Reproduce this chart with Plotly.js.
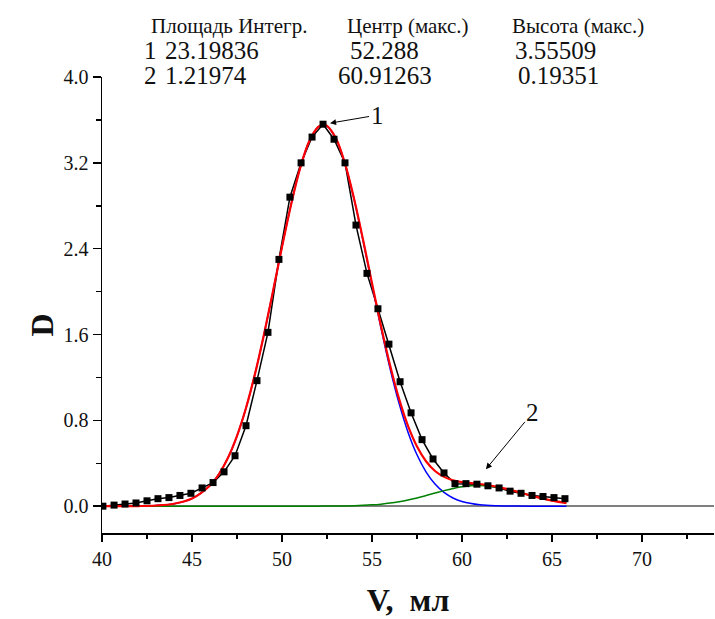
<!DOCTYPE html>
<html>
<head>
<meta charset="utf-8">
<script src="https://cdn.plot.ly/plotly-3.0.1.min.js"></script>
<style>html,body{margin:0;padding:0;background:#fff;}#chart{width:715px;height:619px;}</style>
</head>
<body>
<div id="chart"></div>
<script>
// Measured points (V, ml ; D)
const volume = [40.05, 40.67, 41.28, 41.89, 42.5, 43.11, 43.72, 44.33, 44.94, 45.56, 46.17, 46.78, 47.39, 48.0, 48.61, 49.22, 49.83, 50.44, 51.06, 51.67, 52.28, 52.89, 53.5, 54.11, 54.72, 55.33, 55.94, 56.56, 57.17, 57.78, 58.39, 59.0, 59.61, 60.22, 60.83, 61.44, 62.06, 62.67, 63.28, 63.89, 64.5, 65.11, 65.72];
const density = [0.00, 0.01, 0.02, 0.03, 0.05, 0.07, 0.08, 0.10, 0.12, 0.17, 0.22, 0.32, 0.47, 0.75, 1.17, 1.62, 2.30, 2.88, 3.20, 3.44, 3.56, 3.42, 3.20, 2.62, 2.17, 1.84, 1.51, 1.16, 0.87, 0.62, 0.44, 0.31, 0.21, 0.21, 0.205, 0.19, 0.17, 0.14, 0.12, 0.10, 0.09, 0.08, 0.07];

// Fitted curves
const fitV = [40, 41, 42, 43, 44, 45, 46, 46.5, 47, 47.5, 48, 48.5, 49, 49.5, 50, 50.5, 51, 51.5, 52, 52.3, 52.5, 53, 53.5, 54, 54.5, 55, 55.5, 56, 56.5, 57, 57.5, 58, 58.5, 59, 59.5, 60, 61, 62, 63, 64, 65, 65.8];
const peak1 = [0.0001, 0.0003, 0.0014, 0.0061, 0.0224, 0.0705, 0.192, 0.300, 0.451, 0.655, 0.915, 1.233, 1.601, 2.003, 2.416, 2.808, 3.146, 3.396, 3.533, 3.555, 3.543, 3.425, 3.190, 2.864, 2.478, 2.066, 1.660, 1.286, 0.960, 0.690, 0.479, 0.320, 0.206, 0.128, 0.0765, 0.0441, 0.0131, 0.0034, 0.0007, 0.0001, 0, 0];
const peak2 = [0, 0, 0, 0, 0, 0, 0, 0, 0, 0, 0, 0, 0, 0, 0, 0, 0.0001, 0.0002, 0.0004, 0.0005, 0.0007, 0.0014, 0.0025, 0.0044, 0.0075, 0.0122, 0.0191, 0.0287, 0.0415, 0.0577, 0.077, 0.0989, 0.122, 0.1449, 0.1653, 0.1812, 0.1934, 0.1762, 0.1371, 0.0911, 0.0517, 0.0293];
const fitSum = [0.0001, 0.0003, 0.0014, 0.0061, 0.0224, 0.0705, 0.192, 0.300, 0.451, 0.655, 0.915, 1.233, 1.601, 2.003, 2.416, 2.808, 3.146, 3.396, 3.533, 3.556, 3.544, 3.426, 3.193, 2.868, 2.486, 2.078, 1.679, 1.315, 1.002, 0.748, 0.556, 0.419, 0.328, 0.273, 0.242, 0.225, 0.207, 0.180, 0.138, 0.091, 0.052, 0.029];

// Table of fit parameters
const tableHeader = ["Площадь Интегр.", "Центр (макс.)", "Высота (макс.)"];
const peakNo = ["1", "2"];
const areas = ["23.19836", "1.21974"];
const centers = ["52.288", "60.91263"];
const heights = ["3.55509", "0.19351"];

const xTickVals = [40, 45, 50, 55, 60, 65, 70];
const yTickVals = [0.0, 0.8, 1.6, 2.4, 3.2, 4.0];

const serif = "Liberation Serif, Times New Roman, serif";

const traces = [
  {x: volume, y: density, type: "scatter", mode: "lines", line: {color: "#000", width: 1.5}},
  {x: fitV, y: peak1, type: "scatter", mode: "lines", line: {color: "#0000ff", width: 1.5, shape: "spline"}},
  {x: fitV, y: peak2, type: "scatter", mode: "lines", line: {color: "#008000", width: 1.5, shape: "spline"}},
  {x: fitV, y: fitSum, type: "scatter", mode: "lines", line: {color: "#ff0000", width: 2.2, shape: "spline"}},
  {x: volume, y: density, type: "scatter", mode: "markers", marker: {symbol: "square", size: 7, color: "#000"}}
];

// table annotations (paper coords derived from plot box)
const L = 102, T = 77, W = 612, H = 456;
function px(xp){ return (xp - L) / W; }
function py(yp){ return (T + H - yp) / H; }
const hf = {family: serif, size: 21, color: "#111"};
const tf = {family: serif, size: 25, color: "#111"};
const ann = [];
const headX = [149, 345, 510];
tableHeader.forEach((t, i) => ann.push({xref: "paper", yref: "paper", x: px(headX[i]), y: py(26), xanchor: "left", yanchor: "middle", text: t, showarrow: false, font: hf}));
const rowY = [51, 76];
const numX = [[163, 348, 513], [163, 336, 516]];
for (let r = 0; r < 2; r++) {
  ann.push({xref: "paper", yref: "paper", x: px(142), y: py(rowY[r]), xanchor: "left", yanchor: "middle", text: peakNo[r], showarrow: false, font: tf});
  [areas[r], centers[r], heights[r]].forEach((t, i) => ann.push({xref: "paper", yref: "paper", x: px(numX[r][i]), y: py(rowY[r]), xanchor: "left", yanchor: "middle", text: t, showarrow: false, font: tf}));
}
// peak labels with arrows
ann.push({x: 52.67, y: 3.57, xref: "x", yref: "y", text: "1", showarrow: true, ax: 47, ay: -8, arrowhead: 2, arrowsize: 1.2, arrowwidth: 1, arrowcolor: "#000", font: {family: serif, size: 25, color: "#111"}});
ann.push({x: 61.33, y: 0.345, xref: "x", yref: "y", text: "2", showarrow: true, ax: 47, ay: -57, arrowhead: 2, arrowsize: 1.2, arrowwidth: 1, arrowcolor: "#000", font: {family: serif, size: 25, color: "#111"}});

const layout = {
  width: 715, height: 619, autosize: false,
  margin: {l: 102, r: 1, t: 77, b: 86, pad: 0},
  paper_bgcolor: "#fff", plot_bgcolor: "#fff",
  showlegend: false,
  font: {family: serif, size: 20, color: "#111"},
  xaxis: {
    range: [40, 74], tickvals: xTickVals, ticktext: xTickVals.map(String),
    showgrid: false, zeroline: false, showline: true, linecolor: "#000", linewidth: 1.5,
    ticks: "outside", ticklen: 7, tickwidth: 1.5, tickcolor: "#000",
    minor: {dtick: 2.5, tick0: 40, ticks: "outside", ticklen: 4, tickwidth: 1.5, tickcolor: "#000", showgrid: false},
    tickfont: {family: serif, size: 20, color: "#111"},
    title: {text: "<b>V,\u00a0\u00a0мл</b>", font: {family: serif, size: 32, color: "#111"}, standoff: 20}
  },
  yaxis: {
    range: [-0.25, 4.0], tickvals: yTickVals, ticktext: yTickVals.map(v => v.toFixed(1)),
    showgrid: false, zeroline: true, zerolinecolor: "#808080", zerolinewidth: 2,
    showline: true, linecolor: "#000", linewidth: 1.5,
    ticks: "outside", ticklen: 8, tickwidth: 1.5, tickcolor: "#000",
    minor: {dtick: 0.4, tick0: 0, ticks: "outside", ticklen: 5, tickwidth: 1.5, tickcolor: "#000", showgrid: false},
    tickfont: {family: serif, size: 20, color: "#111"},
    title: {text: "<b>D\u00a0\u00a0\u00a0\u00a0\u00a0</b>", font: {family: serif, size: 32, color: "#111"}, standoff: 0}
  },
  annotations: ann
};

Plotly.newPlot("chart", traces, layout, {displayModeBar: false, staticPlot: true});
</script>
</body>
</html>
